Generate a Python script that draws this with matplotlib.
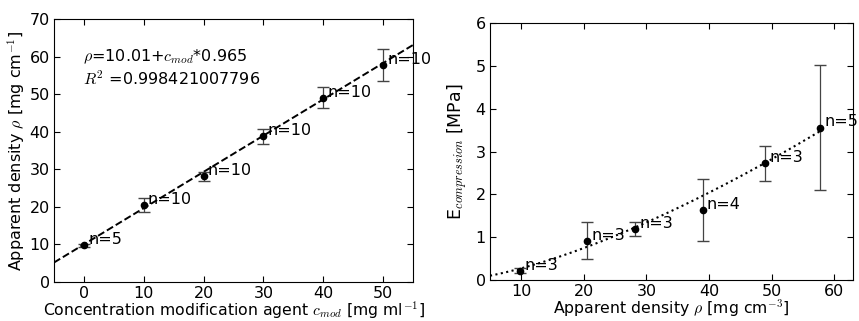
import numpy as np
import matplotlib
matplotlib.use("Agg")
import matplotlib.pyplot as plt

plt.rcParams['font.family'] = ['DejaVu Sans']
plt.rcParams['mathtext.fontset'] = 'cm'
plt.rcParams['font.size'] = 11.5
plt.rcParams['xtick.labelsize'] = 11.5
plt.rcParams['ytick.labelsize'] = 11.5
plt.rcParams['xtick.direction'] = 'in'
plt.rcParams['ytick.direction'] = 'in'
plt.rcParams['xtick.top'] = True
plt.rcParams['ytick.right'] = True
plt.rcParams['xtick.major.size'] = 4
plt.rcParams['ytick.major.size'] = 4
plt.rcParams['xtick.major.pad'] = 3
plt.rcParams['ytick.major.pad'] = 3

# left panel: density vs concentration
conc = [0, 10, 20, 30, 40, 50]
density = [9.8, 20.5, 28.2, 38.8, 49.0, 57.8]
density_err = [0.4, 1.8, 1.2, 2.0, 2.8, 4.2]
density_n = [5, 10, 10, 10, 10, 10]
fit_icpt = 10.01
fit_slope = 0.965

# right panel: modulus vs density
rho = [9.8, 20.5, 28.2, 39.0, 49.0, 57.8]
emod = [0.22, 0.92, 1.19, 1.63, 2.72, 3.56]
emod_err = [0.05, 0.43, 0.17, 0.72, 0.40, 1.45]
emod_n = [3, 3, 3, 4, 3, 5]
pow_a = 0.0097
pow_b = 1.45

fig = plt.figure(figsize=(8.59, 3.21), dpi=100)
ax1 = fig.add_axes([54/859, 1 - 282/321, 359/859, 263/321])
ax2 = fig.add_axes([490/859, 1 - 280/321, 363/859, 257/321])

xs = np.linspace(-5, 55, 50)
ax1.plot(xs, fit_icpt + fit_slope * xs, 'k--', lw=1.4)
ax1.errorbar(conc, density, yerr=density_err, fmt='o', color='k', ms=4.5,
             ecolor='#444444', elinewidth=0.9, capsize=4)
for x, y, n in zip(conc, density, density_n):
    ax1.annotate("n=%d" % n, (x, y), xytext=(3, 4), textcoords='offset points',
                 va='center', ha='left', fontsize=11.5)
ax1.text(0.08, 0.815, "$\\rho$=10.01+$c_{mod}$*0.965\n$R^2$ =0.998421007796",
         transform=ax1.transAxes, va='center', ha='left', fontsize=11.5, linespacing=1.25)
ax1.set_xlim(-5, 55)
ax1.set_ylim(0, 70)
ax1.set_xticks([0, 10, 20, 30, 40, 50])
ax1.set_xlabel("Concentration modification agent $c_{mod}$ [mg ml$^{-1}$]",
               labelpad=-1, fontsize=11.3)
ax1.set_ylabel("Apparent density $\\rho$ [mg cm$^{-1}$]", labelpad=2)

xr = np.linspace(5, 58, 80)
ax2.plot(xr, pow_a * xr ** pow_b, 'k:', lw=1.5)
ax2.errorbar(rho, emod, yerr=emod_err, fmt='o', color='k', ms=4.5,
             ecolor='#444444', elinewidth=0.9, capsize=4)
for x, y, n in zip(rho, emod, emod_n):
    ax2.annotate("n=%d" % n, (x, y), xytext=(3, 4), textcoords='offset points',
                 va='center', ha='left', fontsize=11.5, clip_on=False)
ax2.set_xlim(5, 63)
ax2.set_ylim(0, 6)
ax2.set_xticks([10, 20, 30, 40, 50, 60])
ax2.set_xlabel("Apparent density $\\rho$ [mg cm$^{-3}$]", labelpad=-1, fontsize=11.3)
ax2.set_ylabel("E$_{compression}$ [MPa]", labelpad=4, fontsize=12.5)

fig.savefig("out.png", dpi=100)
